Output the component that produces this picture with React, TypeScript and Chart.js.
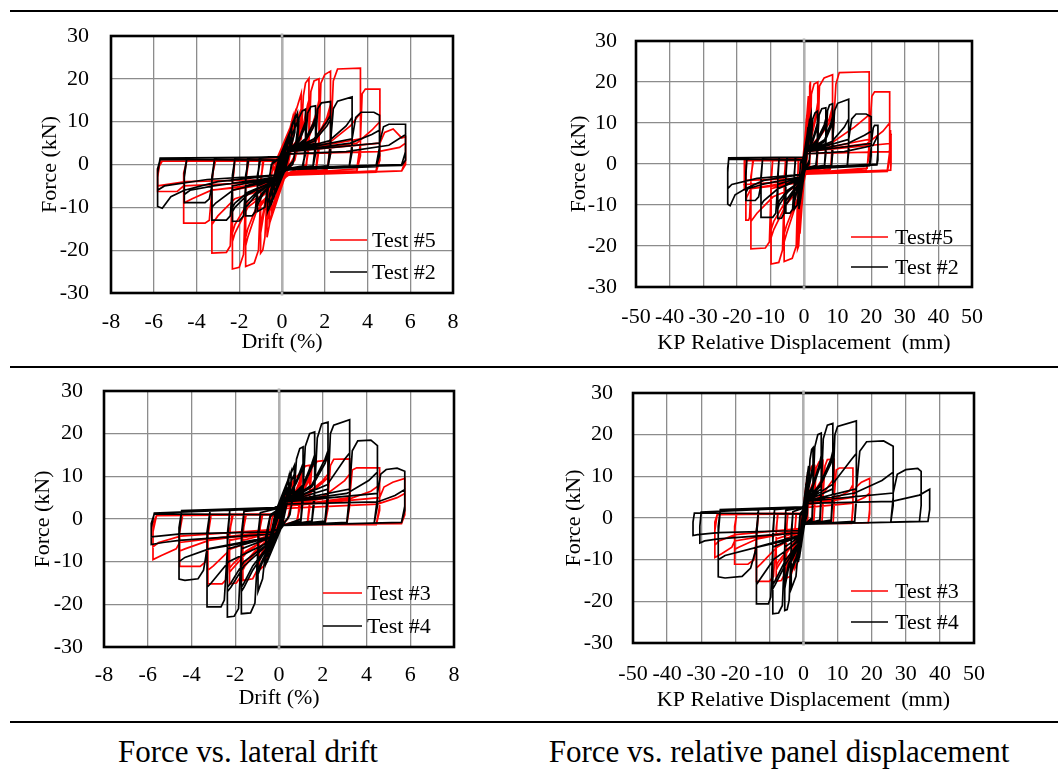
import { useEffect, useRef } from "react";
import { Chart, registerables } from "chart.js";

Chart.register(...registerables);

const FONT = "'Liberation Serif', 'Times New Roman', Times, serif";
const RED = "#ff0000";
const BLACK = "#000000";

// axis ranges / ticks
const forceTicks = [-30, -20, -10, 0, 10, 20, 30];
const driftTicks = [-8, -6, -4, -2, 0, 2, 4, 6, 8];
const dispTicks = [-50, -40, -30, -20, -10, 0, 10, 20, 30, 40, 50];

// rows: [drift (%), KP relative displacement (mm), force (kN)]
type Row = [number, number, number];

const test5: Row[] = [
  [0, 0, 0],
  [0.25, 0.3, 6], [0.25, 0.3, 4], [0, 0, -1], [-0.25, -0.3, -6], [-0.25, -0.3, -4], [0, 0, 1],
  [0.5, 0.7, 11], [0.5, 0.7, 8], [0.2, 0.2, -1], [-0.5, -0.8, -12], [-0.5, -0.8, -9], [-0.2, -0.2, 1],
  [0.35, 0.45, 8], [0.35, 0.45, 5], [0.1, 0.1, -1], [-0.35, -0.5, -9], [-0.35, -0.5, -6], [-0.1, -0.1, 1],
  [0.6, 0.85, 12], [0.6, 0.85, 8.5], [0.25, 0.3, -1.2], [-0.6, -1.0, -14], [-0.6, -1.0, -10], [-0.25, -0.3, 1.2],
  [0.5, 0.7, 10], [0.9, 1.3, 16.6], [0.9, 1.3, 12], [0.7, 1.0, 3], [0.2, 0.2, -1.5], [-0.4, -0.5, -9], [-0.7, -1.2, -17], [-0.7, -1.2, -12], [-0.5, -0.9, -2], [-0.1, -0.1, 1.5],
  [0.5, 0.7, 8], [0.9, 1.3, 13], [0.9, 1.3, 8], [0.6, 0.9, 1], [0.2, 0.2, -2], [-0.4, -0.5, -7], [-0.7, -1.2, -13], [-0.7, -1.2, -8], [-0.4, -0.7, 0], [-0.1, -0.1, 1.5],
  [0.3, 0.4, 3], [0.9, 1.3, 6], [1.0, 1.5, 16], [1.1, 1.7, 19], [1.26, 1.9, 20.1], [1.26, 1.9, 8], [1.15, 1.7, 0], [0.3, 0.5, -2], [-0.2, -0.2, -4], [-0.7, -1.2, -7], [-0.8, -1.4, -17], [-0.9, -1.6, -20], [-1.0, -1.9, -20.7], [-1.0, -1.9, -6], [-0.9, -1.7, 1], [-0.2, -0.2, 1.3],
  [0.3, 0.4, 3], [0.9, 1.3, 7], [1.2, 1.8, 14], [1.26, 1.9, 15], [1.26, 1.9, 5], [1.1, 1.6, -1], [0.3, 0.5, -2.2], [-0.3, -0.3, -5], [-0.8, -1.3, -10], [-1.0, -1.9, -16], [-1.0, -1.9, -4], [-0.85, -1.6, 1.1], [-0.2, -0.2, 1.3],
  [0.3, 0.4, 2.8], [0.9, 1.3, 6.5], [1.2, 1.8, 12.5], [1.26, 1.9, 13.5], [1.26, 1.9, 4], [1.1, 1.6, -1.2], [0.3, 0.5, -2.3], [-0.3, -0.3, -5.5], [-0.8, -1.3, -9], [-1.0, -1.9, -14.5], [-1.0, -1.9, -3.5], [-0.85, -1.6, 1.1], [-0.2, -0.2, 1.3],
  [0.3, 0.4, 3], [1.26, 1.9, 5], [1.35, 2.2, 17], [1.5, 3, 19.5], [1.73, 4.1, 20], [1.73, 4.1, 6], [1.6, 3.8, -0.5], [0.3, 0.5, -2], [-0.2, -0.2, -4], [-1.0, -1.9, -7], [-1.1, -2.3, -20], [-1.3, -3.5, -23], [-1.7, -5.9, -23.8], [-1.7, -5.9, -5], [-1.6, -5.5, 1.1], [-0.2, -0.2, 1.3],
  [0.3, 0.4, 3], [1.2, 1.9, 6], [1.6, 3.5, 12], [1.73, 4.1, 15], [1.73, 4.1, 4], [1.6, 3.8, -1], [0.3, 0.5, -2.2], [-0.3, -0.3, -5], [-1.2, -2.8, -11], [-1.6, -5.2, -17], [-1.7, -5.9, -19], [-1.7, -5.9, -4], [-1.55, -5.4, 1.1], [-0.2, -0.2, 1.3],
  [0.3, 0.4, 2.8], [1.2, 1.9, 5.5], [1.6, 3.5, 11], [1.73, 4.1, 13.5], [1.73, 4.1, 3.5], [1.6, 3.8, -1.2], [0.3, 0.5, -2.3], [-0.3, -0.3, -5.5], [-1.2, -2.8, -10], [-1.6, -5.2, -15], [-1.7, -5.9, -17], [-1.7, -5.9, -3.5], [-1.55, -5.4, 1.1], [-0.2, -0.2, 1.3],
  [0.3, 0.4, 3], [1.73, 4.1, 5], [1.82, 4.6, 19], [2.0, 6, 21], [2.27, 8.5, 21.8], [2.27, 8.5, 6], [2.15, 8, -0.5], [0.3, 0.5, -2], [-0.2, -0.2, -4], [-1.7, -5.9, -7], [-1.8, -6.4, -21], [-2.0, -7.5, -24], [-2.32, -9.8, -24.4], [-2.32, -9.8, -5], [-2.2, -9.3, 1.1], [-0.2, -0.2, 1.3],
  [0.3, 0.4, 3], [1.6, 3.8, 6], [2.1, 7.5, 11], [2.27, 8.5, 14], [2.27, 8.5, 3], [2.1, 7.8, -1.2], [0.3, 0.5, -2.2], [-0.3, -0.3, -5], [-1.6, -5.4, -10], [-2.2, -9, -16], [-2.32, -9.8, -18], [-2.32, -9.8, -4], [-2.2, -9.3, 1.1], [-0.2, -0.2, 1.3],
  [0.3, 0.4, 2.8], [1.6, 3.8, 5.5], [2.1, 7.5, 10], [2.27, 8.5, 12.5], [2.27, 8.5, 2.5], [2.1, 7.8, -1.3], [0.3, 0.5, -2.3], [-0.3, -0.3, -5.5], [-1.6, -5.4, -9], [-2.2, -9, -14], [-2.32, -9.8, -16], [-2.32, -9.8, -3.5], [-2.2, -9.3, 1.1], [-0.2, -0.2, 1.3],
  [0.3, 0.4, 3], [2.27, 8.5, 5], [2.4, 9.5, 19.5], [2.6, 10.5, 22.3], [3.67, 19.4, 22.5], [3.67, 19.4, 5], [3.5, 18.8, -1], [0.3, 0.5, -2.2], [-0.2, -0.2, -4], [-2.32, -9.8, -6], [-2.42, -10.3, -19], [-2.6, -11.5, -20.5], [-3.28, -15.8, -20.7], [-3.28, -15.8, -4], [-3.15, -15.2, 1.1], [-0.2, -0.2, 1.3],
  [0.3, 0.4, 3], [2.2, 8, 5], [3.2, 15, 9], [3.67, 19.4, 12], [3.67, 19.4, 2], [3.5, 18.5, -1.5], [0.3, 0.5, -2.3], [-0.3, -0.3, -5], [-2.2, -9.2, -8], [-3.0, -14, -12], [-3.28, -15.8, -14], [-3.28, -15.8, -3], [-3.1, -15, 1.1], [-0.2, -0.2, 1.3],
  [0.3, 0.4, 3], [3.67, 19.4, 6], [3.75, 20.2, 16.5], [3.9, 21, 17.6], [4.58, 25.5, 17.6], [4.58, 25.5, 3], [4.4, 24.8, -1.5], [0.3, 0.5, -2.5], [-0.2, -0.2, -4], [-3.28, -15.8, -6], [-3.4, -16.2, -13], [-3.6, -16.5, -13.7], [-4.6, -17.3, -13.7], [-4.6, -17.3, -3], [-4.45, -17.1, 1.1], [-0.2, -0.2, 1.2],
  [0.3, 0.4, 3], [3.5, 18.8, 5], [4.2, 23.5, 8], [4.58, 25.5, 10], [4.58, 25.5, 1], [4.4, 24.8, -1.8], [0.3, 0.5, -2.5], [-0.3, -0.3, -4.5], [-3.3, -15.8, -6], [-4.2, -17, -8], [-4.6, -17.3, -9], [-4.6, -17.3, -2], [-4.45, -17.1, 1.0], [-0.2, -0.2, 1.2],
  [0.3, 0.4, 3], [4.58, 25.5, 5], [4.8, 25.6, 7.5], [5.2, 25.7, 8.3], [5.6, 25.8, 6.2], [5.78, 25.9, 6.5], [5.78, 25.9, 1], [5.6, 25.8, -1.5], [0.3, 0.5, -2.5], [-0.2, -0.2, -4], [-4.6, -17.3, -5], [-4.9, -17.5, -6.3], [-5.82, -17.8, -6.3], [-5.82, -17.8, -3], [-5.7, -17.7, 0.8], [-0.2, -0.2, 1],
  [0.3, 0.4, 2.5], [4.5, 25.3, 3], [5.5, 25.8, 4], [5.78, 25.9, 5], [5.78, 25.9, 0], [5.6, 25.8, -1.5], [0.3, 0.5, -2.3], [-0.3, -0.3, -3.5], [-4.5, -17.2, -4], [-5.82, -17.8, -5], [-5.82, -17.8, -1], [-5.6, -17.6, 0.8], [0, 0, 0.8],
];

const test2: Row[] = [
  [0, 0, 0],
  [0.25, 0.6, 5], [0.25, 0.6, 3], [0, 0, -0.5], [-0.25, -0.5, -5], [-0.25, -0.5, -3], [0, 0, 0.5],
  [0.45, 1.2, 9], [0.45, 1.2, 6], [0.1, 0.2, -1], [-0.45, -1, -8.5], [-0.45, -1, -6], [-0.1, -0.2, 1],
  [0.35, 0.9, 7], [0.35, 0.9, 4.5], [0.05, 0.1, -0.8], [-0.35, -0.8, -7], [-0.35, -0.8, -4.5], [-0.05, -0.1, 0.8],
  [0.6, 1.7, 11], [0.6, 1.7, 7.5], [0.15, 0.3, -1.2], [-0.58, -1.3, -10], [-0.58, -1.3, -7], [-0.15, -0.2, 1.3],
  [0.4, 1.1, 8], [0.72, 2.1, 12], [0.72, 2.1, 8], [0.55, 1.6, 1], [0.1, 0.2, -1.5], [-0.4, -0.9, -7], [-0.68, -1.5, -11], [-0.68, -1.5, -7], [-0.5, -1.1, 0], [-0.1, -0.1, 1.5],
  [0.4, 1.1, 6], [0.72, 2.1, 10], [0.72, 2.1, 6], [0.5, 1.5, 0], [0.1, 0.2, -1.5], [-0.4, -0.9, -5.5], [-0.68, -1.5, -9], [-0.68, -1.5, -5], [-0.45, -1, 0.5], [-0.1, -0.1, 1.5],
  [0.3, 0.8, 3], [0.72, 2.1, 5], [0.8, 2.6, 11], [0.95, 3.3, 12.5], [1.1, 4, 12.9], [1.1, 4, 5], [1.0, 3.7, -0.3], [0.2, 0.4, -1], [-0.2, -0.3, -3], [-0.68, -1.5, -5], [-0.8, -2, -10], [-1.15, -2.9, -11], [-1.15, -2.9, -4], [-1.05, -2.6, 1.5], [-0.2, -0.2, 1.7],
  [0.3, 0.8, 3], [0.8, 2.6, 6], [1.1, 4, 10], [1.1, 4, 3], [0.95, 3.5, -0.5], [0.2, 0.4, -1.2], [-0.3, -0.4, -3.5], [-0.9, -2.2, -7], [-1.15, -2.9, -9.5], [-1.15, -2.9, -3], [-1.0, -2.5, 1.5], [-0.2, -0.2, 1.7],
  [0.3, 0.8, 2.8], [0.8, 2.6, 5.5], [1.1, 4, 9], [1.1, 4, 2.5], [0.95, 3.5, -0.6], [0.2, 0.4, -1.3], [-0.3, -0.4, -3.8], [-0.9, -2.2, -6.5], [-1.15, -2.9, -8.5], [-1.15, -2.9, -2.5], [-1.0, -2.5, 1.5], [-0.2, -0.2, 1.7],
  [0.3, 0.8, 3], [1.1, 4, 5], [1.2, 4.5, 12], [1.35, 5.3, 13.5], [1.57, 6.5, 13.7], [1.57, 6.5, 5], [1.45, 6.1, -0.3], [0.2, 0.4, -1], [-0.2, -0.3, -3], [-1.15, -2.9, -5], [-1.25, -3.4, -11], [-1.4, -4.2, -12], [-1.7, -5.4, -12], [-1.7, -5.4, -4], [-1.6, -5.1, 1.5], [-0.2, -0.2, 1.7],
  [0.3, 0.8, 3], [1.1, 4, 6], [1.45, 6, 9.5], [1.57, 6.5, 11], [1.57, 6.5, 3], [1.45, 6.1, -0.5], [0.2, 0.4, -1.2], [-0.3, -0.4, -3.5], [-1.2, -3.2, -7], [-1.6, -5, -9.5], [-1.7, -5.4, -10], [-1.7, -5.4, -3], [-1.55, -5, 1.5], [-0.2, -0.2, 1.7],
  [0.3, 0.8, 2.8], [1.1, 4, 5.5], [1.45, 6, 8.5], [1.57, 6.5, 10], [1.57, 6.5, 2.5], [1.45, 6.1, -0.6], [0.2, 0.4, -1.3], [-0.3, -0.4, -3.8], [-1.2, -3.2, -6.5], [-1.6, -5, -8.5], [-1.7, -5.4, -9], [-1.7, -5.4, -2.5], [-1.55, -5, 1.5], [-0.2, -0.2, 1.7],
  [0.3, 0.8, 3], [1.57, 6.5, 5], [1.67, 7, 13], [1.85, 7.6, 14.4], [2.27, 8.5, 14.7], [2.27, 8.5, 5], [2.15, 8.2, -0.3], [0.2, 0.4, -1], [-0.2, -0.3, -3], [-1.7, -5.4, -5], [-1.8, -5.9, -12], [-2.0, -6.7, -13.2], [-2.32, -7.8, -13.3], [-2.32, -7.8, -4], [-2.2, -7.4, 1.5], [-0.2, -0.2, 1.7],
  [0.3, 0.8, 3], [1.5, 6.2, 6], [2.1, 8, 10], [2.27, 8.5, 11.5], [2.27, 8.5, 3], [2.15, 8.2, -0.5], [0.2, 0.4, -1.2], [-0.3, -0.4, -3.5], [-1.6, -5, -7], [-2.2, -7.4, -10], [-2.32, -7.8, -11], [-2.32, -7.8, -3], [-2.2, -7.4, 1.5], [-0.2, -0.2, 1.7],
  [0.3, 0.8, 2.8], [1.5, 6.2, 5.5], [2.1, 8, 9], [2.27, 8.5, 10.5], [2.27, 8.5, 2.5], [2.15, 8.2, -0.6], [0.2, 0.4, -1.3], [-0.3, -0.4, -3.8], [-1.6, -5, -6.5], [-2.2, -7.4, -9], [-2.32, -7.8, -10], [-2.32, -7.8, -2.5], [-2.2, -7.4, 1.5], [-0.2, -0.2, 1.7],
  [0.3, 0.8, 3], [2.27, 8.5, 5], [2.4, 9.1, 13], [2.6, 10, 14.8], [3.28, 13.3, 15.8], [3.28, 13.3, 5], [3.15, 12.9, -0.3], [0.2, 0.4, -1], [-0.2, -0.3, -3], [-2.32, -7.8, -5], [-2.42, -8.4, -12], [-2.6, -9.3, -13], [-3.28, -12.8, -13], [-3.28, -12.8, -4], [-3.15, -12.3, 1.5], [-0.2, -0.2, 1.7],
  [0.3, 0.8, 3], [2.2, 8.3, 5.5], [3.0, 12, 9], [3.28, 13.3, 11], [3.28, 13.3, 3], [3.15, 12.9, -0.5], [0.2, 0.4, -1.2], [-0.3, -0.4, -3.5], [-2.3, -7.7, -6], [-3.1, -12, -9], [-3.28, -12.8, -10], [-3.28, -12.8, -3], [-3.15, -12.3, 1.5], [-0.2, -0.2, 1.7],
  [0.3, 0.8, 3], [3.28, 13.3, 6], [3.45, 14.2, 11], [3.7, 15.5, 12.2], [4.3, 18.5, 12.2], [4.56, 20, 11.5], [4.56, 20, 4], [4.4, 19.5, -0.3], [0.2, 0.4, -1], [-0.2, -0.3, -3], [-3.28, -12.8, -5], [-3.4, -13.5, -8], [-3.6, -14.5, -8.9], [-4.57, -17.3, -8.9], [-4.57, -17.3, -3], [-4.45, -17, 1.5], [-0.2, -0.2, 1.7],
  [0.3, 0.8, 3], [3.2, 13, 5], [4.2, 18, 7], [4.56, 20, 8], [4.56, 20, 2], [4.4, 19.5, -0.5], [0.2, 0.4, -1.2], [-0.3, -0.4, -3], [-3.2, -12.5, -5], [-4.3, -16.7, -6], [-4.57, -17.3, -7], [-4.57, -17.3, -2], [-4.45, -17, 1.5], [-0.2, -0.2, 1.7],
  [0.3, 0.8, 3], [4.56, 20, 5], [4.75, 20.6, 8.8], [5.0, 21, 9.4], [5.78, 22, 9.4], [5.78, 22, 3], [5.6, 21.7, 0], [0.2, 0.4, -0.8], [-0.2, -0.3, -2.5], [-3, -12, -4], [-4.57, -17.3, -6], [-5.2, -20.5, -7.5], [-5.6, -22, -10.2], [-5.82, -22.7, -9.8], [-5.82, -22.7, -2], [-5.7, -22.4, 1.5], [-0.2, -0.2, 1.7],
  [0.3, 0.8, 2.5], [3, 12, 3], [5.0, 20.5, 4.5], [5.78, 22, 7], [5.78, 22, 1], [5.6, 21.7, -0.2], [0.2, 0.4, -0.8], [-0.3, -0.4, -2.5], [-3.5, -14, -3.5], [-5.5, -21.5, -5], [-5.82, -22.7, -6], [-5.82, -22.7, -1], [-5.7, -22.4, 1.2], [0, 0, 1],
];

const test3: Row[] = [
  [0, 0, 0],
  [0.25, 0.3, 5], [0.25, 0.3, 3], [0, 0, -0.5], [-0.25, -0.5, -5], [-0.25, -0.5, -3], [0, 0, 0.5],
  [0.4, 0.5, 6.5], [0.4, 0.5, 4], [0.1, 0.1, -0.8], [-0.38, -0.8, -6.5], [-0.38, -0.8, -4], [-0.1, -0.1, 0.8],
  [0.6, 0.8, 8.5], [0.6, 0.8, 5], [0.4, 0.5, 0], [0.1, 0.1, -1.2], [-0.5, -1.2, -8.5], [-0.5, -1.2, -5], [-0.3, -0.7, 0.5], [-0.1, -0.1, 1.2],
  [0.3, 0.4, 3], [0.6, 0.8, 6], [0.7, 0.95, 9.5], [0.95, 1.3, 10.6], [0.95, 1.3, 5], [0.85, 1.15, -0.5], [0.2, 0.2, -1.3], [-0.2, -0.3, -3], [-0.5, -1.2, -5], [-0.6, -1.6, -10.5], [-0.9, -2.5, -12], [-0.9, -2.5, -4], [-0.8, -2.2, 1], [-0.2, -0.2, 1.2],
  [0.3, 0.4, 3], [0.8, 1.1, 7], [0.95, 1.3, 9], [0.95, 1.3, 3], [0.8, 1.1, -0.8], [0.2, 0.2, -1.3], [-0.3, -0.5, -3.5], [-0.75, -2, -8], [-0.9, -2.5, -10], [-0.9, -2.5, -3], [-0.75, -2.1, 1], [-0.2, -0.2, 1.2],
  [0.3, 0.4, 2.8], [0.8, 1.1, 6.5], [0.95, 1.3, 8.3], [0.95, 1.3, 2.5], [0.8, 1.1, -0.9], [0.2, 0.2, -1.3], [-0.3, -0.5, -3.8], [-0.75, -2, -7.5], [-0.9, -2.5, -9.3], [-0.9, -2.5, -2.5], [-0.75, -2.1, 1], [-0.2, -0.2, 1.2],
  [0.3, 0.4, 3], [0.95, 1.3, 5], [1.05, 1.7, 11], [1.2, 2.4, 12.4], [1.4, 3.3, 12.6], [1.4, 3.3, 4], [1.3, 3, -0.8], [0.2, 0.2, -1.3], [-0.2, -0.3, -3], [-0.9, -2.5, -5], [-1.0, -3, -12], [-1.2, -3.8, -14], [-1.65, -5, -14.4], [-1.65, -5, -4], [-1.55, -4.7, 1], [-0.2, -0.2, 1.2],
  [0.3, 0.4, 3], [1.0, 1.6, 6], [1.3, 3, 9], [1.4, 3.3, 10], [1.4, 3.3, 3], [1.3, 3, -1], [0.2, 0.2, -1.3], [-0.3, -0.5, -3.5], [-1.1, -3.3, -8], [-1.55, -4.7, -11], [-1.65, -5, -12], [-1.65, -5, -3], [-1.5, -4.6, 1], [-0.2, -0.2, 1.2],
  [0.3, 0.4, 2.8], [1.0, 1.6, 5.5], [1.3, 3, 8.3], [1.4, 3.3, 9.3], [1.4, 3.3, 2.5], [1.3, 3, -1.1], [0.2, 0.2, -1.3], [-0.3, -0.5, -3.8], [-1.1, -3.3, -7.5], [-1.55, -4.7, -10.2], [-1.65, -5, -11], [-1.65, -5, -2.5], [-1.5, -4.6, 1], [-0.2, -0.2, 1.2],
  [0.3, 0.4, 3], [1.4, 3.3, 5], [1.5, 3.7, 12], [1.75, 4.6, 13.5], [2.24, 5.7, 13.8], [2.24, 5.7, 4], [2.1, 5.4, -1], [0.2, 0.2, -1.3], [-0.2, -0.3, -3], [-1.65, -5, -5], [-1.75, -5.5, -13.5], [-1.95, -6.5, -15], [-2.26, -8, -15.2], [-2.26, -8, -4], [-2.15, -7.6, 1], [-0.2, -0.2, 1.2],
  [0.3, 0.4, 3], [1.3, 3, 6], [2.0, 5.2, 9], [2.24, 5.7, 10.5], [2.24, 5.7, 3], [2.1, 5.4, -1.2], [0.2, 0.2, -1.3], [-0.3, -0.5, -3.5], [-1.5, -4.6, -8], [-2.1, -7.4, -11.5], [-2.26, -8, -12.5], [-2.26, -8, -3], [-2.1, -7.5, 1], [-0.2, -0.2, 1.2],
  [0.3, 0.4, 2.8], [1.3, 3, 5.5], [2.0, 5.2, 8.5], [2.24, 5.7, 9.7], [2.24, 5.7, 2.5], [2.1, 5.4, -1.3], [0.2, 0.2, -1.3], [-0.3, -0.5, -3.8], [-1.5, -4.6, -7.5], [-2.1, -7.4, -10.5], [-2.26, -8, -11.5], [-2.26, -8, -2.5], [-2.1, -7.5, 1], [-0.2, -0.2, 1.2],
  [0.3, 0.4, 3], [2.24, 5.7, 5], [2.35, 6.3, 12.5], [2.5, 7, 14], [3.23, 9, 14.1], [3.23, 9, 4], [3.1, 8.7, -1.1], [0.2, 0.2, -1.3], [-0.2, -0.3, -3], [-2.26, -8, -5], [-2.38, -8.8, -14], [-2.6, -10, -15.2], [-3.25, -13.8, -15.2], [-3.25, -13.8, -4], [-3.1, -13.2, 1], [-0.2, -0.2, 1.2],
  [0.3, 0.4, 3], [2.1, 5.5, 5.5], [3.0, 8.5, 9], [3.23, 9, 10.5], [3.23, 9, 3], [3.1, 8.7, -1.2], [0.2, 0.2, -1.3], [-0.3, -0.5, -3.5], [-2.2, -7.8, -7], [-3.0, -12.5, -11], [-3.25, -13.8, -12], [-3.25, -13.8, -3], [-3.1, -13.2, 1], [-0.2, -0.2, 1.2],
  [0.3, 0.4, 3], [3.23, 9, 5], [3.35, 9.6, 11.5], [3.55, 10.5, 12], [4.6, 14.5, 12], [4.6, 14.5, 3], [4.45, 14.1, -1.2], [0.2, 0.2, -1.3], [-0.2, -0.3, -3], [-3.25, -13.8, -5], [-3.35, -14.5, -10], [-3.6, -16.3, -11.1], [-4.54, -20.2, -11.1], [-4.54, -20.2, -3], [-4.4, -19.6, 1], [-0.2, -0.2, 1.2],
  [0.3, 0.4, 3], [3.1, 8.8, 4.5], [4.2, 13.5, 6.5], [4.6, 14.5, 8], [4.6, 14.5, 2], [4.45, 14.1, -1.3], [0.2, 0.2, -1.3], [-0.3, -0.5, -3], [-3.2, -13.5, -5], [-4.3, -19, -7], [-4.54, -20.2, -7.5], [-4.54, -20.2, -2], [-4.4, -19.6, 1], [-0.2, -0.2, 1.2],
  [0.3, 0.4, 3], [4.6, 14.5, 5], [4.8, 15.5, 7.5], [5.2, 17, 8.6], [5.75, 19.4, 9.5], [5.75, 19.4, 2], [5.6, 19, -1.1], [0.2, 0.2, -1.2], [-0.2, -0.3, -2.8], [-4.54, -20.2, -5.5], [-4.7, -21, -7], [-5.4, -24, -8.6], [-5.76, -26, -9.5], [-5.76, -26, -3], [-5.6, -25.3, 0.8], [-0.2, -0.2, 1.1],
  [0.3, 0.4, 2.5], [4.5, 14, 3.5], [5.4, 18, 5], [5.75, 19.4, 6], [5.75, 19.4, 1], [5.6, 19, -1.1], [0.2, 0.2, -1.2], [-0.3, -0.5, -2.5], [-4.5, -20, -4], [-5.5, -24.8, -5.5], [-5.76, -26, -6.5], [-5.76, -26, -1], [-5.6, -25.3, 0.8], [0, 0, 1],
];

const test4: Row[] = [
  [0, 0, 0],
  [0.25, 0.5, 6], [0.25, 0.5, 4], [0, 0, -1], [-0.25, -0.5, -5], [-0.25, -0.5, -3], [0, 0, 1],
  [0.45, 1.0, 10], [0.45, 1.0, 7], [0.1, 0.2, -1], [-0.4, -0.9, -8], [-0.4, -0.9, -5], [-0.1, -0.2, 1.5],
  [0.35, 0.75, 8], [0.35, 0.75, 5.5], [0.05, 0.1, -1], [-0.33, -0.7, -7], [-0.33, -0.7, -4.5], [-0.05, -0.1, 1.2],
  [0.55, 1.2, 11], [0.55, 1.2, 8], [0.15, 0.3, -1.5], [-0.5, -1.2, -9.5], [-0.5, -1.2, -6.5], [-0.15, -0.2, 1.8],
  [0.4, 0.9, 9], [0.7, 1.5, 12.5], [0.7, 1.5, 8], [0.5, 1.1, 1], [0.1, 0.2, -2], [-0.35, -0.8, -7], [-0.6, -1.5, -10.5], [-0.6, -1.5, -6], [-0.4, -1, 0.5], [-0.1, -0.1, 2],
  [0.4, 0.9, 7], [0.7, 1.5, 10.5], [0.7, 1.5, 6], [0.45, 1, 0.5], [0.1, 0.2, -2], [-0.35, -0.8, -6], [-0.6, -1.5, -9], [-0.6, -1.5, -4], [-0.4, -1, 1], [-0.1, -0.1, 2],
  [0.3, 0.6, 4], [0.7, 1.5, 7], [0.8, 1.9, 14], [0.95, 2.4, 16.5], [1.1, 2.8, 16.9], [1.1, 2.8, 8], [1.0, 2.5, 0], [0.2, 0.3, -1.5], [-0.2, -0.3, -4], [-0.6, -1.5, -7], [-0.75, -2.2, -14], [-0.96, -3.6, -17], [-0.96, -3.6, -6], [-0.85, -3.1, 1.5], [-0.2, -0.2, 2.3],
  [0.3, 0.6, 4], [0.8, 1.9, 9], [1.1, 2.8, 13], [1.1, 2.8, 5], [1.0, 2.5, -0.5], [0.2, 0.3, -1.5], [-0.3, -0.5, -5], [-0.75, -2.2, -10], [-0.96, -3.6, -13], [-0.96, -3.6, -4], [-0.85, -3.1, 1.5], [-0.2, -0.2, 2.3],
  [0.3, 0.6, 3.8], [0.8, 1.9, 8.5], [1.1, 2.8, 12], [1.1, 2.8, 4.5], [1.0, 2.5, -0.6], [0.2, 0.3, -1.5], [-0.3, -0.5, -5], [-0.75, -2.2, -9.5], [-0.96, -3.6, -12], [-0.96, -3.6, -3.5], [-0.85, -3.1, 1.5], [-0.2, -0.2, 2.3],
  [0.3, 0.6, 4], [1.1, 2.8, 7], [1.2, 3.3, 17], [1.4, 4.2, 20], [1.63, 5.2, 20.4], [1.63, 5.2, 7], [1.5, 4.8, -0.5], [0.2, 0.3, -1.5], [-0.2, -0.3, -4], [-0.96, -3.6, -7], [-1.1, -4.2, -19.7], [-1.3, -4.8, -22], [-1.72, -5.5, -22.2], [-1.72, -5.5, -6], [-1.6, -5.2, 1.8], [-0.2, -0.2, 2.5],
  [0.3, 0.6, 4], [1.1, 2.8, 8], [1.5, 4.7, 13], [1.63, 5.2, 15], [1.63, 5.2, 5], [1.5, 4.8, -0.8], [0.2, 0.3, -1.5], [-0.3, -0.5, -5], [-1.2, -4.4, -12], [-1.6, -5.3, -16], [-1.72, -5.5, -17], [-1.72, -5.5, -4], [-1.6, -5.2, 1.8], [-0.2, -0.2, 2.5],
  [0.3, 0.6, 3.8], [1.1, 2.8, 7.5], [1.5, 4.7, 12], [1.63, 5.2, 14], [1.63, 5.2, 4.5], [1.5, 4.8, -0.9], [0.2, 0.3, -1.5], [-0.3, -0.5, -5], [-1.2, -4.4, -11], [-1.6, -5.3, -15], [-1.72, -5.5, -16], [-1.72, -5.5, -3.5], [-1.6, -5.2, 1.8], [-0.2, -0.2, 2.5],
  [0.3, 0.6, 4], [1.63, 5.2, 7], [1.75, 5.8, 19], [1.95, 7, 22.3], [2.24, 8.6, 22.7], [2.24, 8.6, 7], [2.1, 8.1, -0.5], [0.2, 0.3, -1.5], [-0.2, -0.3, -4], [-1.72, -5.5, -7], [-1.85, -6.2, -21], [-2.05, -7.3, -22.8], [-2.36, -9, -23], [-2.36, -9, -6], [-2.25, -8.5, 2], [-0.2, -0.2, 2.6],
  [0.3, 0.6, 4], [1.5, 4.8, 8], [2.1, 8, 14], [2.24, 8.6, 16], [2.24, 8.6, 5], [2.1, 8.1, -0.8], [0.2, 0.3, -1.5], [-0.3, -0.5, -5], [-1.6, -5.2, -11], [-2.2, -8.3, -16], [-2.36, -9, -17], [-2.36, -9, -4], [-2.25, -8.5, 2], [-0.2, -0.2, 2.6],
  [0.3, 0.6, 3.8], [1.5, 4.8, 7.5], [2.1, 8, 13], [2.24, 8.6, 15], [2.24, 8.6, 4.5], [2.1, 8.1, -0.9], [0.2, 0.3, -1.5], [-0.3, -0.5, -5], [-1.6, -5.2, -10], [-2.2, -8.3, -15], [-2.36, -9, -16], [-2.36, -9, -3.5], [-2.25, -8.5, 2], [-0.2, -0.2, 2.6],
  [0.3, 0.6, 4], [2.24, 8.6, 7], [2.35, 9.2, 20], [2.5, 10, 22], [3.23, 15.5, 23.3], [3.23, 15.5, 6], [3.1, 15, -0.8], [0.2, 0.3, -1.5], [-0.2, -0.3, -4], [-2.36, -9, -7], [-2.5, -9.6, -19], [-2.65, -10.3, -20.6], [-3.29, -13.8, -20.6], [-3.29, -13.8, -5], [-3.15, -13.2, 2], [-0.2, -0.2, 2.7],
  [0.3, 0.6, 4], [2.2, 8.4, 8], [3.0, 14, 14], [3.23, 15.5, 15.5], [3.23, 15.5, 4], [3.1, 15, -1], [0.2, 0.3, -1.5], [-0.3, -0.5, -5], [-2.3, -8.8, -10], [-3.1, -13, -15], [-3.29, -13.8, -16], [-3.29, -13.8, -3], [-3.15, -13.2, 2], [-0.2, -0.2, 2.7],
  [0.3, 0.6, 4], [3.23, 15.5, 7], [3.35, 16.5, 16], [3.6, 18.5, 18.3], [4.2, 23.5, 18.5], [4.5, 26.3, 17.2], [4.5, 26.3, 5], [4.35, 25.6, -1], [0.2, 0.3, -1.5], [-0.2, -0.3, -4], [-3.29, -13.8, -7], [-3.45, -15.5, -12], [-3.7, -18, -14], [-4.3, -23, -14.4], [-4.57, -25, -14.1], [-4.57, -25, -4], [-4.45, -24.4, 2], [-0.2, -0.2, 2.7],
  [0.3, 0.6, 4], [3.1, 15, 6], [4.1, 23, 9], [4.5, 26.3, 11], [4.5, 26.3, 3], [4.35, 25.6, -1], [0.2, 0.3, -1.5], [-0.3, -0.5, -4.5], [-3.2, -13.5, -7], [-4.3, -23, -9], [-4.57, -25, -10], [-4.57, -25, -2], [-4.45, -24.4, 2], [-0.2, -0.2, 2.7],
  [0.3, 0.6, 4], [4.5, 26.3, 6], [4.65, 27.5, 10.5], [4.9, 30, 11.6], [5.4, 33.5, 11.9], [5.75, 34.5, 11.2], [5.75, 34.5, 3], [5.6, 34, -0.8], [0.2, 0.3, -1.5], [-0.2, -0.3, -3.5], [-4.57, -25, -5], [-5.3, -29, -5.5], [-5.84, -30.4, -6], [-5.84, -30.4, -2], [-5.7, -30, 1.4], [-0.2, -0.2, 2.5],
  [0.3, 0.6, 3.5], [4.5, 26, 4], [5.3, 34, 5.5], [5.75, 37, 6.9], [5.75, 37, 2], [5.6, 36.5, -0.8], [0.2, 0.3, -1.5], [-0.3, -0.5, -3], [-4.5, -25, -3.5], [-5.5, -31, -4], [-5.84, -32.4, -4.2], [-5.84, -32.4, -1], [-5.7, -32, 1.2], [0, 0, 1],
];

type LegendItem = { label: string; color: string; x0: number; x1: number; tx: number; y: number };
type SeriesSpec = { rows: Row[]; color: string };
type PanelSpec = {
  box: { left: number; top: number; width: number; height: number };
  area: { l: number; t: number; r: number; b: number };
  xCol: 0 | 1;
  xTicks: number[];
  xTitle: string;
  xHeight: number;
  xTickPad: number;
  yTickPad: number;
  yTitlePad: number;
  series: SeriesSpec[];
  legend: LegendItem[];
};

const panels: PanelSpec[] = [
  {
    box: { left: 0, top: 16, width: 520, height: 339 },
    area: { l: 111, t: 36, r: 453, b: 293 },
    xCol: 0, xTicks: driftTicks, xTitle: "Drift (%)", xHeight: 62, xTickPad: 16, yTickPad: 22, yTitlePad: 37,
    series: [{ rows: test2, color: BLACK }, { rows: test5, color: RED }],
    legend: [
      { label: "Test #5", color: RED, x0: 330, x1: 367, tx: 372, y: 240 },
      { label: "Test #2", color: BLACK, x0: 330, x1: 367, tx: 372, y: 272 },
    ],
  },
  {
    box: { left: 529, top: 16, width: 529, height: 340 },
    area: { l: 636, t: 41, r: 972, b: 287 },
    xCol: 1, xTicks: dispTicks, xTitle: "KP Relative Displacement  (mm)", xHeight: 69, xTickPad: 17, yTickPad: 19, yTitlePad: 37,
    series: [{ rows: test2, color: BLACK }, { rows: test5, color: RED }],
    legend: [
      { label: "Test#5", color: RED, x0: 851, x1: 888, tx: 895, y: 237 },
      { label: "Test #2", color: BLACK, x0: 851, x1: 888, tx: 895, y: 267 },
    ],
  },
  {
    box: { left: 0, top: 372, width: 520, height: 339 },
    area: { l: 104, t: 391, r: 454, b: 647 },
    xCol: 0, xTicks: driftTicks, xTitle: "Drift (%)", xHeight: 64, xTickPad: 15, yTickPad: 21, yTitlePad: 30,
    series: [{ rows: test4, color: BLACK }, { rows: test3, color: RED }],
    legend: [
      { label: "Test #3", color: RED, x0: 323, x1: 362, tx: 367, y: 593 },
      { label: "Test #4", color: BLACK, x0: 323, x1: 362, tx: 367, y: 626 },
    ],
  },
  {
    box: { left: 529, top: 372, width: 529, height: 341 },
    area: { l: 633, t: 393, r: 974, b: 643 },
    xCol: 1, xTicks: dispTicks, xTitle: "KP Relative Displacement  (mm)", xHeight: 70, xTickPad: 18, yTickPad: 20, yTitlePad: 32,
    series: [{ rows: test4, color: BLACK }, { rows: test3, color: RED }],
    legend: [
      { label: "Test #3", color: RED, x0: 851, x1: 888, tx: 895, y: 591 },
      { label: "Test #4", color: BLACK, x0: 851, x1: 888, tx: 895, y: 622 },
    ],
  },
];

function Panel({ spec }: { spec: PanelSpec }) {
  const ref = useRef<HTMLCanvasElement | null>(null);
  useEffect(() => {
    const canvas = ref.current;
    if (!canvas) return;
    const { box, area } = spec;
    const tickFont = { family: FONT, size: 22 };
    const framePlugin = {
      id: "frameLegend",
      afterDatasetsDraw(chart: any) {
        const { ctx, chartArea: a } = chart;
        ctx.save();
        ctx.strokeStyle = "#000";
        ctx.lineWidth = 2.6;
        ctx.strokeRect(a.left, a.top, a.right - a.left, a.bottom - a.top);
        const x0 = chart.scales.x.getPixelForValue(0);
        ctx.strokeStyle = "#b0b0b0";
        ctx.lineWidth = 2.6;
        ctx.beginPath();
        ctx.moveTo(x0, a.top - 2.5);
        ctx.lineTo(x0, a.top + 1.3);
        ctx.moveTo(x0, a.bottom - 1.3);
        ctx.lineTo(x0, a.bottom + 2.5);
        ctx.stroke();
        ctx.font = `22px ${FONT}`;
        ctx.textBaseline = "middle";
        ctx.textAlign = "left";
        ctx.fillStyle = "#000";
        spec.legend.forEach((it) => {
          const y = it.y - box.top;
          ctx.strokeStyle = it.color;
          ctx.lineWidth = 1.6;
          ctx.beginPath();
          ctx.moveTo(it.x0 - box.left, y);
          ctx.lineTo(it.x1 - box.left, y);
          ctx.stroke();
          ctx.fillText(it.label, it.tx - box.left, y + 1.5);
        });
        ctx.restore();
      },
    };
    const xMin = spec.xTicks[0];
    const xMax = spec.xTicks[spec.xTicks.length - 1];
    const chart = new Chart(canvas, {
      type: "scatter",
      data: {
        datasets: spec.series.map((s) => ({
          data: s.rows.map((r) => ({ x: r[spec.xCol], y: r[2] })),
          showLine: true,
          borderColor: s.color,
          backgroundColor: s.color,
          borderWidth: 1.7,
          pointRadius: 0,
          pointHoverRadius: 0,
          tension: 0,
          fill: false,
        })),
      },
      options: {
        responsive: false,
        animation: false,
        events: [],
        layout: {
          padding: {
            left: 0,
            top: area.t - box.top,
            right: box.left + box.width - area.r,
            bottom: 0,
          },
        },
        plugins: { legend: { display: false }, tooltip: { enabled: false } },
        scales: {
          x: {
            type: "linear",
            min: xMin,
            max: xMax,
            afterBuildTicks: (s: any) => {
              s.ticks = spec.xTicks.map((v) => ({ value: v }));
            },
            ticks: {
              autoSkip: false,
              maxRotation: 0,
              minRotation: 0,
              padding: spec.xTickPad,
              color: "#000",
              font: tickFont,
              callback: (v: any) => String(v),
            },
            grid: {
              drawTicks: false,
              color: (c: any) => (c.tick && c.tick.value === 0 ? "#b0b0b0" : "#8c8c8c"),
              lineWidth: (c: any) => (c.tick && c.tick.value === 0 ? 2.6 : 1.3),
            },
            border: { display: false },
            title: {
              display: true,
              text: spec.xTitle,
              color: "#000",
              font: tickFont,
              padding: { top: 0, bottom: 0 },
            },
            afterFit: (s: any) => {
              s.height = spec.xHeight;
              s.paddingLeft = 0;
              s.paddingRight = 0;
            },
          },
          y: {
            type: "linear",
            min: -30,
            max: 30,
            afterBuildTicks: (s: any) => {
              s.ticks = forceTicks.map((v) => ({ value: v }));
            },
            ticks: {
              autoSkip: false,
              padding: spec.yTickPad,
              color: "#000",
              font: tickFont,
              callback: (v: any) => String(v),
            },
            grid: {
              drawTicks: false,
              color: "#8c8c8c",
              lineWidth: 1.3,
            },
            border: { display: false },
            title: {
              display: true,
              text: "Force (kN)",
              color: "#000",
              font: tickFont,
              padding: { top: spec.yTitlePad, bottom: 0 },
            },
            afterFit: (s: any) => {
              s.width = area.l - box.left;
              s.paddingTop = 0;
              s.paddingBottom = 0;
            },
          },
        },
      },
      plugins: [framePlugin],
    } as any);
    return () => chart.destroy();
  }, [spec]);
  return (
    <canvas
      ref={ref}
      width={spec.box.width}
      height={spec.box.height}
      style={{
        position: "absolute",
        left: spec.box.left,
        top: spec.box.top,
        width: spec.box.width,
        height: spec.box.height,
      }}
    />
  );
}

const rule = (top: number) => (
  <div style={{ position: "absolute", left: 10, top, width: 1048, height: 2, background: "#000" }} />
);

const captionStyle = (center: number): any => ({
  position: "absolute",
  left: center - 300,
  width: 600,
  top: 736,
  textAlign: "center",
  fontFamily: FONT,
  fontSize: 31,
  lineHeight: "31px",
  color: "#000",
  whiteSpace: "nowrap",
});

export default function App() {
  return (
    <div
      style={{
        position: "absolute",
        left: 0,
        top: 0,
        width: 1058,
        height: 774,
        background: "#fff",
        overflow: "hidden",
      }}
    >
      {rule(10)}
      {rule(366)}
      {rule(721)}
      {panels.map((p, i) => (
        <Panel key={i} spec={p} />
      ))}
      <div style={captionStyle(248)}>Force vs. lateral drift</div>
      <div style={captionStyle(779)}>Force vs. relative panel displacement</div>
    </div>
  );
}
